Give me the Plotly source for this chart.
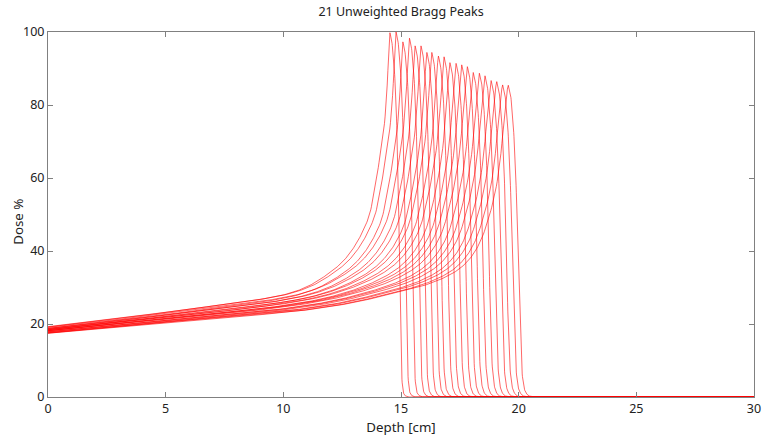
import numpy as np
import plotly.graph_objects as go

# Peak positions (cm) and heights (%) of the 21 curves
peak_depth = [14.53, 14.79, 15.08, 15.36, 15.60, 15.85, 16.10, 16.31, 16.59, 16.83, 17.08,
              17.34, 17.58, 17.82, 18.07, 18.33, 18.57, 18.83, 19.07, 19.32, 19.56]
peak_dose = [99.8, 100.0, 97.3, 98.3, 96.2, 96.2, 94.4, 94.4, 93.4, 93.2, 91.6,
             91.4, 91.0, 90.5, 88.9, 88.7, 88.0, 86.7, 86.4, 85.5, 85.4]

# Shallowest curve (peak 14.53 cm): rising part (depth, dose) and distal fall (offset after peak, dose)
first_rise_depth = [0, 2.5, 5, 7.5, 9.86, 10.85, 11.84, 12.5, 12.97, 13.4, 13.68, 13.85, 14.0,
                    14.08, 14.2, 14.28, 14.35, 14.4, 14.46, 14.5, 14.53]
first_rise_dose = [19.2, 21.1, 23.2, 25.4, 27.8, 29.8, 33.5, 37.0, 40.8, 45.8, 50.5, 56.0, 61.5,
                   65.0, 70.0, 74.0, 79.0, 84.0, 92.0, 97.5, 100.0]
first_fall_offset = [0, 0.07, 0.15, 0.23, 0.31, 0.37, 0.42, 0.46, 0.50, 0.55, 0.62, 0.77]
first_fall_dose = [100, 98, 93, 85, 70, 52, 32, 15, 6, 2, 0.5, 0]

# Deepest curve (peak 19.56 cm)
last_rise_depth = [0, 2.5, 5, 7.5, 10, 12.5, 15, 16, 17, 17.5, 18.0, 18.4, 18.7, 19.0, 19.2,
                   19.35, 19.45, 19.52, 19.56]
last_rise_dose = [17.5, 19.0, 20.5, 21.8, 23.1, 25.3, 28.9, 30.6, 33.2, 35.2, 38.5, 43.0, 48.5,
                  56.0, 64.0, 74.0, 80.5, 84.3, 85.4]
last_fall_offset = [0, 0.09, 0.17, 0.26, 0.33, 0.39, 0.44, 0.49, 0.55, 0.62, 0.72, 0.88, 1.1]
last_fall_dose = [85.4, 83, 78, 69, 58, 45, 32, 20, 10, 4.5, 1.5, 0.3, 0]

x_ticks = [0, 5, 10, 15, 20, 25, 30]
y_ticks = [0, 20, 40, 60, 80, 100]


def pchip(xq, xs, ys):
    xs = np.asarray(xs, float)
    ys = np.asarray(ys, float)
    h = np.diff(xs)
    d = np.diff(ys) / h
    m = np.zeros_like(ys)
    for k in range(1, len(xs) - 1):
        if d[k - 1] * d[k] > 0:
            w1 = 2 * h[k] + h[k - 1]
            w2 = h[k] + 2 * h[k - 1]
            m[k] = (w1 + w2) / (w1 / d[k - 1] + w2 / d[k])
    m[0] = d[0]
    m[-1] = d[-1]
    xq = np.clip(np.asarray(xq, float), xs[0], xs[-1])
    idx = np.clip(np.searchsorted(xs, xq) - 1, 0, len(xs) - 2)
    hh = h[idx]
    s = (xq - xs[idx]) / hh
    h00 = 2 * s**3 - 3 * s**2 + 1
    h10 = s**3 - 2 * s**2 + s
    h01 = -2 * s**3 + 3 * s**2
    h11 = s**3 - s**2
    return h00 * ys[idx] + h10 * hh * m[idx] + h01 * ys[idx + 1] + h11 * hh * m[idx + 1]


fig = go.Figure()
n = len(peak_depth)
RL, RR = first_rise_depth[-1], last_rise_depth[-1]
HL, HR = first_rise_dose[-1], last_rise_dose[-1]
for i in range(n):
    t = i / (n - 1)
    R, H = peak_depth[i], peak_dose[i]
    u = np.linspace(0, 1, 500)
    zr = u * R
    lr = pchip(u * RL, first_rise_depth, first_rise_dose) / HL
    rr = pchip(u * RR, last_rise_depth, last_rise_dose) / HR
    dr = H * ((1 - t) * lr + t * rr)
    off = np.linspace(0, 1.2, 121)[1:]
    lf = pchip(off, first_fall_offset, first_fall_dose) / HL
    rf = pchip(off, last_fall_offset, last_fall_dose) / HR
    df = H * ((1 - t) * lf + t * rf)
    x = np.concatenate([zr, R + off, [30]])
    y = np.concatenate([dr, df, [0]])
    fig.add_trace(go.Scatter(x=x, y=y, mode="lines",
                             line=dict(color="#ff0000", width=0.6),
                             showlegend=False, hoverinfo="skip"))

font = dict(family="Noto Sans", size=12.5, color="#222")
title_font = dict(family="Noto Sans", size=13.3, color="#222")
axis_common = dict(showline=True, mirror="ticks", linecolor="#808080", linewidth=1,
                   ticks="inside", ticklen=5, tickcolor="#808080", showgrid=False,
                   zeroline=False, automargin=False, tickfont=font)
fig.update_layout(
    width=764, height=436,
    margin=dict(l=48, r=10, t=32, b=39),
    paper_bgcolor="white", plot_bgcolor="white",
    title=dict(text="21 Unweighted Bragg Peaks", x=0.525, xanchor="center",
               y=1 - 12 / 436, yref="container", yanchor="middle", font=font),
    xaxis=dict(range=[0, 30], tickvals=x_ticks,
               title=dict(text="Depth [cm]", standoff=7, font=title_font), **axis_common),
    yaxis=dict(range=[0, 100], tickvals=y_ticks, **axis_common),
    annotations=[dict(text="Dose %", xref="paper", yref="paper", x=-30 / 706, y=0.48,
                      xanchor="center", yanchor="middle", textangle=-90, showarrow=False,
                      font=title_font)],
)
fig.write_html("out.html")
